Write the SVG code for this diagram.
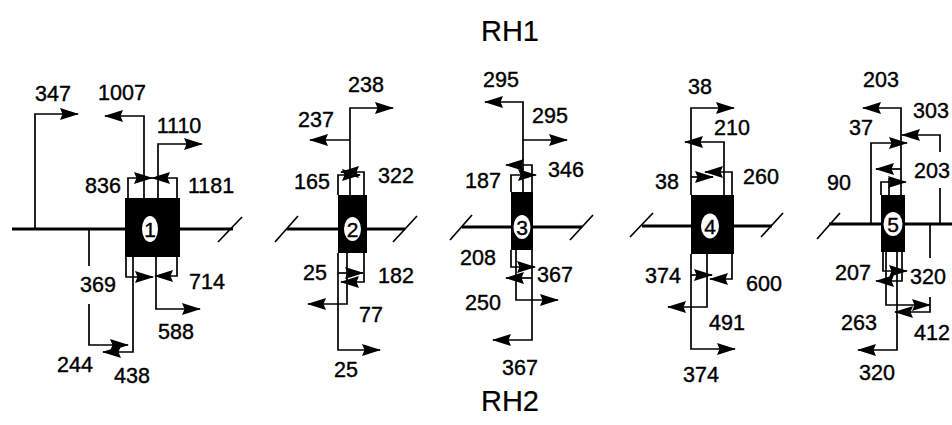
<svg xmlns="http://www.w3.org/2000/svg" width="952" height="425" viewBox="0 0 952 425">
<style>
.t{font-family:"Liberation Sans",Arial,Helvetica,sans-serif;font-size:21.5px;text-anchor:middle;fill:#000;stroke:#000;stroke-width:0.4}
.h{font-size:29px;stroke-width:0.2}
.n{font-size:21px}
.ln{stroke:#000;stroke-width:1.7;fill:none}
.a{marker-end:url(#ah)}
.main{stroke:#000;stroke-width:3.2;fill:none}
.sl{stroke:#000;stroke-width:1.7;fill:none}
.box{fill:#000}
.ov{fill:#fff}
</style>
<defs>
<marker id="ah" markerUnits="userSpaceOnUse" viewBox="-19 -7 21 14" refX="0" refY="0" markerWidth="21" markerHeight="14" orient="auto" overflow="visible">
<path d="M1,0 L-18,-6 L-15.5,0 L-18,6 Z" fill="#000"/>
</marker>
</defs>
<rect width="952" height="425" fill="#fff"/>
<text class="t h" x="510" y="41">RH1</text>
<text class="t h" x="510" y="411">RH2</text>

<g id="backbone">
<line class="main" x1="12" y1="229" x2="233" y2="229"/>
<line class="sl" x1="218" y1="242" x2="242" y2="217"/>
<line class="main" x1="287" y1="229" x2="405" y2="229"/>
<line class="sl" x1="275" y1="242" x2="298" y2="216"/>
<line class="sl" x1="393" y1="242" x2="417" y2="216"/>
<line class="main" x1="462" y1="227" x2="582" y2="227"/>
<line class="sl" x1="450" y1="240" x2="472" y2="215"/>
<line class="sl" x1="570" y1="240" x2="593" y2="215"/>
<line class="main" x1="642" y1="226" x2="772" y2="226"/>
<line class="sl" x1="630" y1="237" x2="653" y2="213"/>
<line class="sl" x1="761" y1="237" x2="783" y2="213"/>
<line class="main" x1="829" y1="224" x2="952" y2="224"/>
<line class="sl" x1="817" y1="239" x2="840" y2="213"/>
</g>

<g id="exon1">
<rect class="box" x="125" y="198" width="55" height="59"/>
<ellipse class="ov" cx="150" cy="229" rx="8" ry="13"/>
<text class="t n" x="150" y="237">1</text>
</g>
<g id="exon2">
<rect class="box" x="338" y="195" width="29" height="58"/>
<ellipse class="ov" cx="352.5" cy="229" rx="8.5" ry="12"/>
<text class="t n" x="352.5" y="237">2</text>
</g>
<g id="exon3">
<rect class="box" x="511" y="192" width="22" height="58"/>
<ellipse class="ov" cx="522" cy="227" rx="8.5" ry="12"/>
<text class="t n" x="522" y="235">3</text>
</g>
<g id="exon4">
<rect class="box" x="691" y="195" width="43" height="59"/>
<ellipse class="ov" cx="710" cy="226" rx="9" ry="12.5"/>
<text class="t n" x="710" y="234">4</text>
</g>
<g id="exon5">
<rect class="box" x="881" y="195" width="24" height="57"/>
<ellipse class="ov" cx="893" cy="224" rx="9.5" ry="12"/>
<text class="t n" x="893" y="232">5</text>
</g>

<g id="connectors">
<!-- exon 1 -->
<polyline class="ln a" points="35,229 35,114 78,114"/>
<polyline class="ln a" points="144,198 144,116 105,116"/>
<polyline class="ln a" points="158,198 158,144 202,144"/>
<polyline class="ln a" points="128,198 128,178 152,178"/>
<polyline class="ln a" points="177,198 177,178 152,178"/>
<polyline class="ln a" points="126,257 126,277 153,277"/>
<polyline class="ln a" points="177,257 177,276 155,276"/>
<path class="ln a" d="M89,229 V266 M89,304 V345 H128"/>
<polyline class="ln a" points="133,257 133,352 103,352"/>
<polyline class="ln a" points="156,257 156,309 200,309"/>
<!-- exon 2 -->
<polyline class="ln a" points="350,195 350,108 393,108"/>
<polyline class="ln a" points="350,140 310,140"/>
<polyline class="ln a" points="338,195 338,175 360,175"/>
<polyline class="ln a" points="364,195 364,172 341,172"/>
<polyline class="ln a" points="338,253 338,350 380,350"/>
<polyline class="ln a" points="347,253 347,304 308,304"/>
<polyline class="ln a" points="338,273 363,273"/>
<polyline class="ln a" points="364,253 364,282 341,282"/>
<!-- exon 3 -->
<polyline class="ln a" points="523,192 523,102 485,102"/>
<polyline class="ln a" points="523,140 567,140"/>
<polyline class="ln a" points="532,192 532,165 506,165"/>
<polyline class="ln a" points="511,192 511,175 536,175"/>
<polyline class="ln a" points="511,250 511,267 535,267"/>
<polyline class="ln a" points="532,278 506,278"/>
<polyline class="ln a" points="516,250 516,300 558,300"/>
<polyline class="ln a" points="532,250 532,340 493,340"/>
<!-- exon 4 -->
<polyline class="ln a" points="691,195 691,108 734,108"/>
<polyline class="ln a" points="724,195 724,142 685,142"/>
<polyline class="ln a" points="732,195 732,172 705,172"/>
<polyline class="ln a" points="691,177 713,177"/>
<polyline class="ln a" points="691,254 691,349 735,349"/>
<polyline class="ln a" points="707,254 707,307 668,307"/>
<polyline class="ln a" points="732,254 732,279 710,279"/>
<polyline class="ln a" points="691,275 712,275"/>
<!-- exon 5 -->
<polyline class="ln a" points="901,195 901,108 863,108"/>
<path class="ln a" d="M940,224 V188 M940,152 V135 H902"/>
<polyline class="ln a" points="871,224 871,143 907,143"/>
<polyline class="ln a" points="901,169 876,169"/>
<polyline class="ln" points="889,195 889,178"/>
<polyline class="ln a" points="881,195 881,182 906,182"/>
<polyline class="ln a" points="883,252 883,271 907,271"/>
<polyline class="ln a" points="902,252 902,281 876,281"/>
<polyline class="ln a" points="886,252 886,305 930,305"/>
<path class="ln a" d="M930,224 V258 M930,297 V312 H895"/>
<polyline class="ln a" points="897,252 897,350 858,350"/>
</g>

<g id="labels">
<text class="t" x="53" y="101">347</text>
<text class="t" x="122" y="100">1007</text>
<text class="t" x="179" y="133">1110</text>
<text class="t" x="103" y="193">836</text>
<text class="t" x="211" y="193">1181</text>
<text class="t" x="98" y="292">369</text>
<text class="t" x="207" y="289">714</text>
<text class="t" x="176" y="339">588</text>
<text class="t" x="75" y="372">244</text>
<text class="t" x="132" y="383">438</text>

<text class="t" x="366" y="92">238</text>
<text class="t" x="316" y="127">237</text>
<text class="t" x="312" y="189">165</text>
<text class="t" x="396" y="183">322</text>
<text class="t" x="315" y="280">25</text>
<text class="t" x="396" y="283">182</text>
<text class="t" x="371" y="322">77</text>
<text class="t" x="346" y="377">25</text>

<text class="t" x="501" y="87">295</text>
<text class="t" x="550" y="123">295</text>
<text class="t" x="483" y="188">187</text>
<text class="t" x="566" y="177">346</text>
<text class="t" x="478" y="265">208</text>
<text class="t" x="555" y="282">367</text>
<text class="t" x="483" y="310">250</text>
<text class="t" x="520" y="375">367</text>

<text class="t" x="700" y="94">38</text>
<text class="t" x="732" y="135">210</text>
<text class="t" x="667" y="189">38</text>
<text class="t" x="761" y="184">260</text>
<text class="t" x="663" y="283">374</text>
<text class="t" x="764" y="291">600</text>
<text class="t" x="727" y="330">491</text>
<text class="t" x="701" y="382">374</text>

<text class="t" x="881" y="87">203</text>
<text class="t" x="931" y="118">303</text>
<text class="t" x="861" y="135">37</text>
<text class="t" x="932" y="178">203</text>
<text class="t" x="839" y="190">90</text>
<text class="t" x="853" y="280">207</text>
<text class="t" x="928" y="284">320</text>
<text class="t" x="859" y="330">263</text>
<text class="t" x="914" y="340" style="text-anchor:start">412</text>
<text class="t" x="877" y="380">320</text>
</g>
</svg>
